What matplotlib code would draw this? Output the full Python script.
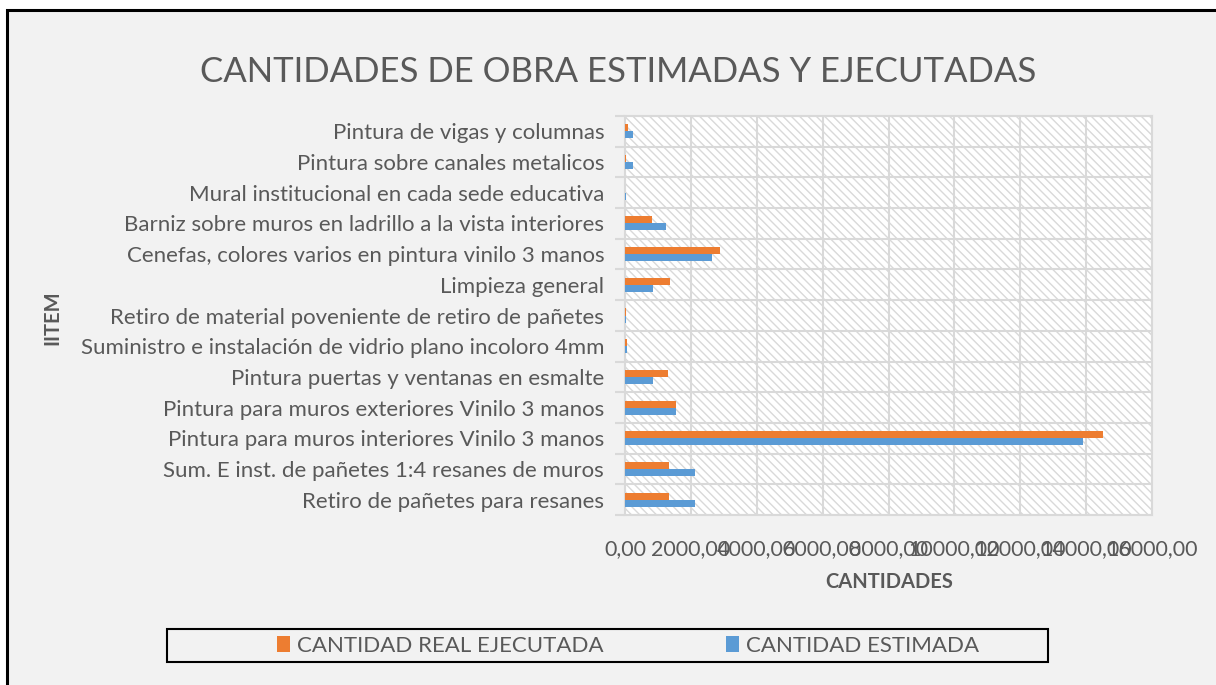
import numpy as np
import matplotlib
matplotlib.use("Agg")
import matplotlib.pyplot as plt
from matplotlib.patches import Rectangle

plt.rcParams['font.family'] = ['Lato', 'DejaVu Sans']
plt.rcParams['hatch.linewidth'] = 1.0

# categories listed top to bottom as they appear
items = [
    "Pintura de vigas y columnas",
    "Pintura sobre canales metalicos",
    "Mural institucional en cada sede educativa",
    "Barniz sobre muros en ladrillo a la vista interiores",
    "Cenefas, colores varios en pintura vinilo 3 manos",
    "Limpieza general",
    "Retiro de material poveniente de retiro de pañetes",
    "Suministro e instalación de vidrio plano incoloro 4mm",
    "Pintura puertas y ventanas en esmalte",
    "Pintura para muros exteriores Vinilo 3 manos",
    "Pintura para muros interiores Vinilo 3 manos",
    "Sum. E inst. de pañetes 1:4 resanes de muros",
    "Retiro de pañetes para resanes",
]
real_ejecutada = [100, 30, 0, 830, 2870, 1380, 30, 70, 1310, 1550, 14500, 1330, 1330]
estimada = [230, 230, 30, 1240, 2650, 860, 30, 70, 850, 1550, 13910, 2120, 2120]
xticks = [0, 2000, 4000, 6000, 8000, 10000, 12000, 14000, 16000]

ORANGE = '#ED7D31'
BLUE = '#5B9BD5'
TXT = '#595959'
GRID = '#d9d9d9'

fig = plt.figure(figsize=(12.16, 6.85), dpi=100, facecolor='white')
# chart frame
frame = Rectangle((7/1216, -0.05), 1.1, (685-10)/685 + 0.05, transform=fig.transFigure,
                  facecolor='#f2f2f2', edgecolor='black', lw=2.2, zorder=-10)
fig.patches.append(frame)

ax = fig.add_axes([625/1216, (685-515)/685, (1152-625)/1216, (515-116)/685])
ax.set_facecolor('white')
ax.add_patch(Rectangle((0, 0), 1, 1, transform=ax.transAxes, facecolor='white',
                       edgecolor=GRID, hatch='\\\\\\\\', lw=0, zorder=0))

n = len(items)
y = np.arange(n)[::-1]
h = 0.23
ax.barh(y + h/2, real_ejecutada, height=h, color=ORANGE, zorder=3, label="CANTIDAD REAL EJECUTADA")
ax.barh(y - h/2, estimada, height=h, color=BLUE, zorder=3, label="CANTIDAD ESTIMADA")

ax.set_xlim(0, 16000)
ax.set_ylim(-0.5, n - 0.5)
ax.set_xticks(xticks)
ax.set_xticklabels([f"{v:.2f}".replace('.', ',') for v in xticks], fontsize=15.5, color=TXT)
ax.tick_params(axis='x', length=0, pad=17)
ax.set_yticks(np.arange(n + 1) - 0.5)
ax.set_yticklabels([])
ax.tick_params(axis='y', which='major', length=7, color=GRID, width=1.5)
ax.set_yticks(y, minor=True)
ax.set_yticklabels(items, minor=True, fontsize=16, color=TXT)
ax.tick_params(axis='y', which='minor', length=0, pad=15)
ax.grid(True, color=GRID, lw=1.5, zorder=1)
ax.set_axisbelow(True)
for s in ['top', 'right', 'left', 'bottom']:
    ax.spines[s].set_color(GRID)
    ax.spines[s].set_linewidth(1.5)

fig.text(618/1216, 1 - 72/685, "CANTIDADES DE OBRA ESTIMADAS Y EJECUTADAS", ha='center', va='center',
         fontsize=25, color=TXT)
fig.text(889/1216, 1 - 582/685, "CANTIDADES", ha='center', va='center', fontsize=14.5, color=TXT,
         fontweight='bold')
fig.text(52/1216, 1 - 318/685, "IITEM", ha='center', va='center', fontsize=14.5, color=TXT,
         fontweight='bold', rotation=90)

# legend box
fig.patches.append(Rectangle((167/1216, 1 - 662/685), (1048-167)/1216, 33/685, transform=fig.transFigure,
                             facecolor='#f2f2f2', edgecolor='black', lw=1.5, zorder=-5))
leg = fig.legend(loc='center left', bbox_to_anchor=(277/1216, 1 - 646/685), ncol=2, fontsize=16,
                 frameon=False, handlelength=0.6, handleheight=0.7, handletextpad=0.3,
                 columnspacing=5.5, borderpad=0, borderaxespad=0, labelcolor=TXT)

fig.savefig("out.png", dpi=100, facecolor=fig.get_facecolor())
